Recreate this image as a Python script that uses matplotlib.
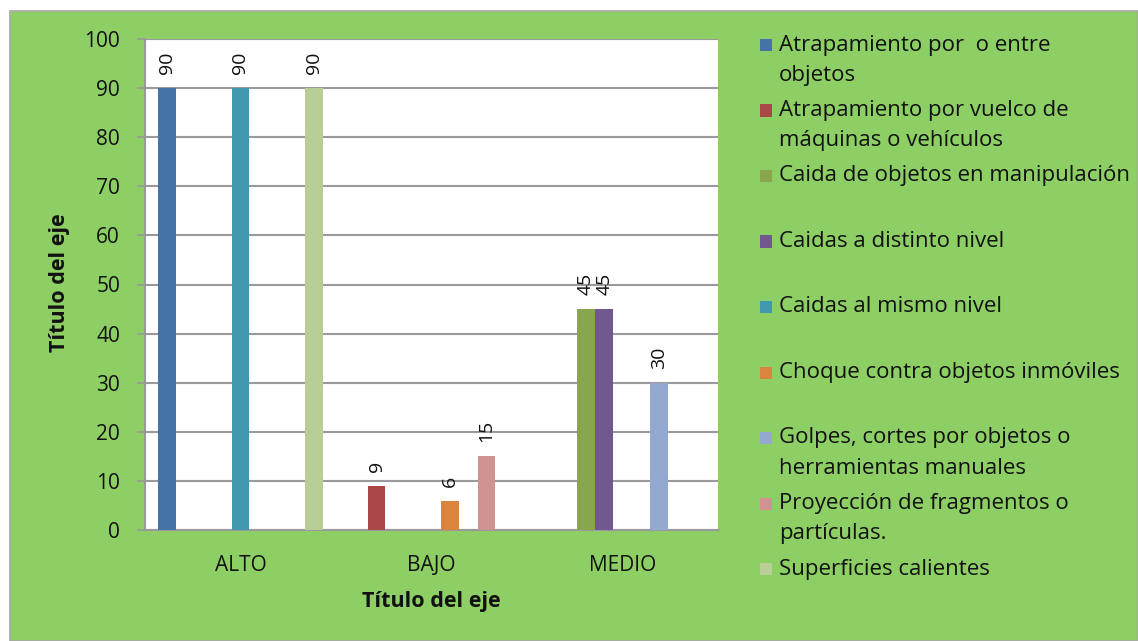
"""Grouped bar chart: risk level per hazard type."""
import numpy as np
import matplotlib
matplotlib.use("Agg")
import matplotlib.pyplot as plt
from matplotlib.patches import Rectangle

CATEGORIES = ["ALTO", "BAJO", "MEDIO"]
SERIES = [
    "Atrapamiento por  o entre\nobjetos",
    "Atrapamiento por vuelco de\nmáquinas o vehículos",
    "Caida de objetos en manipulación",
    "Caidas a distinto nivel",
    "Caidas al mismo nivel",
    "Choque contra objetos inmóviles",
    "Golpes, cortes por objetos o\nherramientas manuales",
    "Proyección de fragmentos o\npartículas.",
    "Superficies calientes",
]
# one row per series, one column per category (ALTO, BAJO, MEDIO)
VALUES = [
    [90, 0, 0],
    [0, 9, 0],
    [0, 0, 45],
    [0, 0, 45],
    [90, 0, 0],
    [0, 6, 0],
    [0, 0, 30],
    [0, 15, 0],
    [90, 0, 0],
]
COLORS = ["#4572A7", "#AA4643", "#89A54E", "#71588F", "#4198AF",
          "#DB843D", "#93A9CF", "#D19392", "#B9CD96"]
Y_TICKS = [0, 10, 20, 30, 40, 50, 60, 70, 80, 90, 100]

BG = "#8DCF64"
GRID = "#9a9a9a"
TXT = "#111111"
FONT = ["Open Sans", "DejaVu Sans"]

plt.rcParams["font.family"] = FONT

W, H = 1138, 641
fig = plt.figure(figsize=(W / 100, H / 100), dpi=100)
fig.patch.set_facecolor("white")
fig.patches.append(Rectangle((10 / W, 0), 1 - 10 / W, 1 - 11 / H, transform=fig.transFigure,
                             facecolor=BG, edgecolor="#a8a8a8", linewidth=1.2, zorder=-10))

ax = fig.add_axes([145 / W, 1 - 530 / H, (718 - 145) / W, (530 - 39) / H])
ax.set_facecolor("white")

n = len(SERIES)
slot = 0.0958
x = np.arange(len(CATEGORIES))
for k, (vals, col) in enumerate(zip(VALUES, COLORS)):
    pos = x + (k - (n - 1) / 2) * slot
    ax.bar(pos, vals, width=slot * 0.97, color=col, linewidth=0, zorder=3)
    for p, v in zip(pos, vals):
        if v:
            ax.annotate(f"{v}", (p, v), xytext=(0, 14), textcoords="offset pixels",
                        rotation=90, ha="center", va="bottom", fontsize=14, color=TXT)

ax.set_xlim(-0.5, len(CATEGORIES) - 0.5)
ax.set_ylim(0, 100)
ax.set_yticks(Y_TICKS)
ax.set_xticks(x)
ax.set_xticklabels(CATEGORIES)
ax.tick_params(axis="y", length=6, width=1.2, color=GRID, labelsize=15, pad=12,
               labelcolor=TXT)
ax.tick_params(axis="x", length=0, labelsize=15, pad=18, labelcolor=TXT)
ax.yaxis.grid(True, color=GRID, linewidth=1.5, zorder=0)
ax.set_axisbelow(True)
for side in ("top", "right"):
    ax.spines[side].set_visible(False)
for side in ("left", "bottom"):
    ax.spines[side].set_color(GRID)
    ax.spines[side].set_linewidth(1.5)

fig.text(60 / W, 1 - 283 / H, "Título del eje", rotation=90, ha="center", va="center",
         fontsize=15.5, fontweight="bold", color=TXT)
fig.text(431 / W, 1 - 602 / H, "Título del eje", ha="center", va="center",
         fontsize=15.5, fontweight="bold", color=TXT)

# legend drawn by hand to keep the evenly spaced entries
y0, step, line_h = 45, 65.5, 30
for i, (name, col) in enumerate(zip(SERIES, COLORS)):
    yc = y0 + i * step
    fig.patches.append(Rectangle((760 / W, 1 - (yc + 6) / H), 12 / W, 12 / H,
                                 transform=fig.transFigure, facecolor=col, linewidth=0))
    for j, line in enumerate(name.split("\n")):
        fig.text(779 / W, 1 - (yc + j * line_h) / H, line, ha="left", va="center",
                 fontsize=16, color=TXT)

fig.savefig("out.png", dpi=100)
